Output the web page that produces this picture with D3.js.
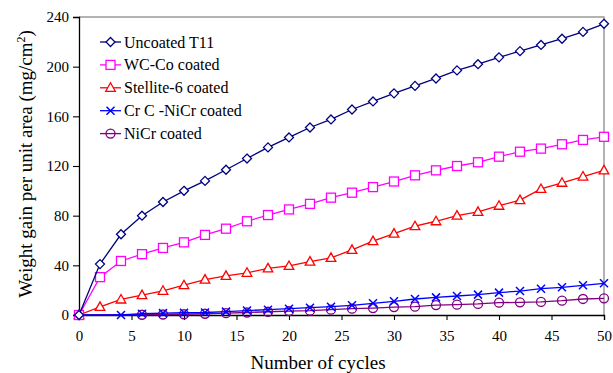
<!DOCTYPE html>
<html>
<head>
<meta charset="utf-8">
<script src="https://cdn.jsdelivr.net/npm/d3@7"></script>
<style>
  body { margin: 0; background: #fff; }
</style>
</head>
<body>
<svg id="chart" width="613" height="373"></svg>
<script>
// cycles (x) and weight gain (mg/cm2)
const cycles = [0, 2, 4, 6, 8, 10, 12, 14, 16, 18, 20, 22, 24, 26, 28, 30, 32, 34, 36, 38, 40, 42, 44, 46, 48, 50];
const uncoated = [0, 41, 65, 80, 91, 100, 108, 117, 126, 135, 143, 151, 157.5, 165.5, 172, 178.5, 184.5, 190.5, 197, 202, 207.5, 212.5, 217.5, 222.5, 228, 234.5];
const wcco = [0, 30.5, 43.5, 49, 54, 58.5, 64.5, 69.5, 75.5, 80.5, 85, 89.5, 94.5, 98.5, 103, 107.5, 112.5, 116.5, 120, 123, 127.5, 131.5, 134, 137.5, 141, 143.5];
const stellite = [0, 6.5, 12.5, 16, 19.5, 24, 28.5, 31.5, 34, 37.5, 39.5, 43, 46, 52.5, 59.5, 65.5, 71.5, 75.5, 80, 83, 88, 92.5, 101.5, 106.5, 111.5, 116.5];
// Cr C-NiCr has no point at cycle 2, NiCr starts again at cycle 6
const crcCycles = [0, 4, 6, 8, 10, 12, 14, 16, 18, 20, 22, 24, 26, 28, 30, 32, 34, 36, 38, 40, 42, 44, 46, 48, 50];
const crc = [0, 0, 1, 1.5, 1.8, 2, 2.7, 3.6, 4.3, 5.1, 5.9, 6.7, 7.8, 9.4, 11, 12.9, 14.2, 15.3, 16.4, 18, 19.3, 21.2, 22.3, 23.9, 25.5];
const nicrCycles = [0, 6, 8, 10, 12, 14, 16, 18, 20, 22, 24, 26, 28, 30, 32, 34, 36, 38, 40, 42, 44, 46, 48, 50];
const nicr = [0, 0.2, 0.4, 0.6, 1, 1.5, 2, 2.6, 3.2, 3.5, 4.3, 5.1, 5.6, 6.4, 6.7, 8, 8.3, 8.9, 9.9, 10.2, 10.5, 11.5, 12.9, 13.4];

const seriesNames = ["Uncoated T11", "WC-Co coated", "Stellite-6 coated", "Cr C -NiCr coated", "NiCr coated"];
const seriesColors = ["#000080", "#ff00ff", "#ff0000", "#0000ff", "#800080"];
const seriesMarkers = ["diamond", "square", "triangle", "cross", "circle"];

const xTicks = [0, 5, 10, 15, 20, 25, 30, 35, 40, 45, 50];
const yTicks = [0, 40, 80, 120, 160, 200, 240];

const FONT = '"Liberation Serif", "Times New Roman", serif';

const series = [
  { xs: cycles, ys: uncoated },
  { xs: cycles, ys: wcco },
  { xs: cycles, ys: stellite },
  { xs: crcCycles, ys: crc },
  { xs: nicrCycles, ys: nicr }
].map((s, i) => ({
  name: seriesNames[i],
  color: seriesColors[i],
  marker: seriesMarkers[i],
  points: s.xs.map((c, j) => ({ x: c, y: s.ys[j] }))
}));

const margin = { left: 79, top: 17, right: 9, bottom: 58 };
const width = 613, height = 373;

const svg = d3.select("#chart");

const x = d3.scaleLinear().domain([0, 50]).range([margin.left, width - margin.right]);
const y = d3.scaleLinear().domain([0, 240]).range([height - margin.bottom, margin.top]);

// plot area border (grey top/right)
svg.append("path")
  .attr("d", `M${x(0)},${y(240)}H${x(50)}V${y(0)}`)
  .attr("fill", "none")
  .attr("stroke", "#9a9a9a")
  .attr("stroke-width", 1.5);

// axes
const xAxis = svg.append("g")
  .attr("transform", `translate(0,${y(0)})`)
  .call(d3.axisBottom(x).tickValues(xTicks).tickSize(5).tickPadding(10));
const yAxis = svg.append("g")
  .attr("transform", `translate(${x(0)},0)`)
  .call(d3.axisLeft(y).tickValues(yTicks).tickSize(6).tickPadding(4));

[xAxis, yAxis].forEach(a => {
  a.attr("font-family", FONT).attr("font-size", 15);
  a.select(".domain").attr("stroke", "#000").attr("stroke-width", 1.3);
  a.selectAll(".tick line").attr("stroke", "#000").attr("stroke-width", 1.1);
  a.selectAll(".tick text").attr("fill", "#000");
});

// axis titles
svg.append("text")
  .attr("x", 318)
  .attr("y", 369)
  .attr("text-anchor", "middle")
  .attr("font-family", FONT)
  .attr("font-size", 19)
  .text("Number of cycles");

const yTitle = svg.append("text")
  .attr("transform", `translate(32,164) rotate(-90)`)
  .attr("text-anchor", "middle")
  .attr("font-family", FONT)
  .attr("font-size", 19);
yTitle.append("tspan").text("Weight gain per unit area (mg/cm");
yTitle.append("tspan").attr("dy", -7).attr("font-size", 12).text("2");
yTitle.append("tspan").attr("dy", 7).text(")");

// markers
function drawMarker(g, type, color) {
  if (type === "diamond") {
    g.append("path").attr("d", "M0,-4.5L4.5,0L0,4.5L-4.5,0Z")
      .attr("fill", "#fff").attr("stroke", color).attr("stroke-width", 1.3);
  } else if (type === "square") {
    g.append("rect").attr("x", -4.5).attr("y", -4.5).attr("width", 9).attr("height", 9)
      .attr("fill", "#fff").attr("stroke", color).attr("stroke-width", 1.3);
  } else if (type === "triangle") {
    g.append("path").attr("d", "M0,-5L4.8,3.5L-4.8,3.5Z")
      .attr("fill", "#fff").attr("stroke", color).attr("stroke-width", 1.3);
  } else if (type === "cross") {
    g.append("path").attr("d", "M-4,-4L4,4M-4,4L4,-4")
      .attr("fill", "none").attr("stroke", color).attr("stroke-width", 1.5);
  } else if (type === "circle") {
    g.append("circle").attr("r", 4.5)
      .attr("fill", "none").attr("stroke", color).attr("stroke-width", 1.3);
  }
}

const line = d3.line().x(d => x(d.x)).y(d => y(d.y));

// draw back to front so the upper series sit on top as in the picture
series.slice().reverse().forEach(s => {
  const g = svg.append("g");
  g.append("path")
    .datum(s.points)
    .attr("d", line)
    .attr("fill", "none")
    .attr("stroke", s.color)
    .attr("stroke-width", 1.3);
  s.points.forEach(p => {
    drawMarker(g.append("g").attr("transform", `translate(${x(p.x)},${y(p.y)})`), s.marker, s.color);
  });
});

// legend
const legend = svg.append("g").attr("transform", "translate(100,42)");
series.forEach((s, i) => {
  const row = legend.append("g").attr("transform", `translate(0,${i * 22.9})`);
  row.append("line").attr("x1", 0).attr("x2", 21).attr("y1", 0).attr("y2", 0)
    .attr("stroke", s.color).attr("stroke-width", 1.3);
  drawMarker(row.append("g").attr("transform", "translate(10.5,0)"), s.marker, s.color);
  row.append("text")
    .attr("x", 24)
    .attr("y", 5.5)
    .attr("font-family", FONT)
    .attr("font-size", 16)
    .text(s.name);
});
</script>
</body>
</html>
